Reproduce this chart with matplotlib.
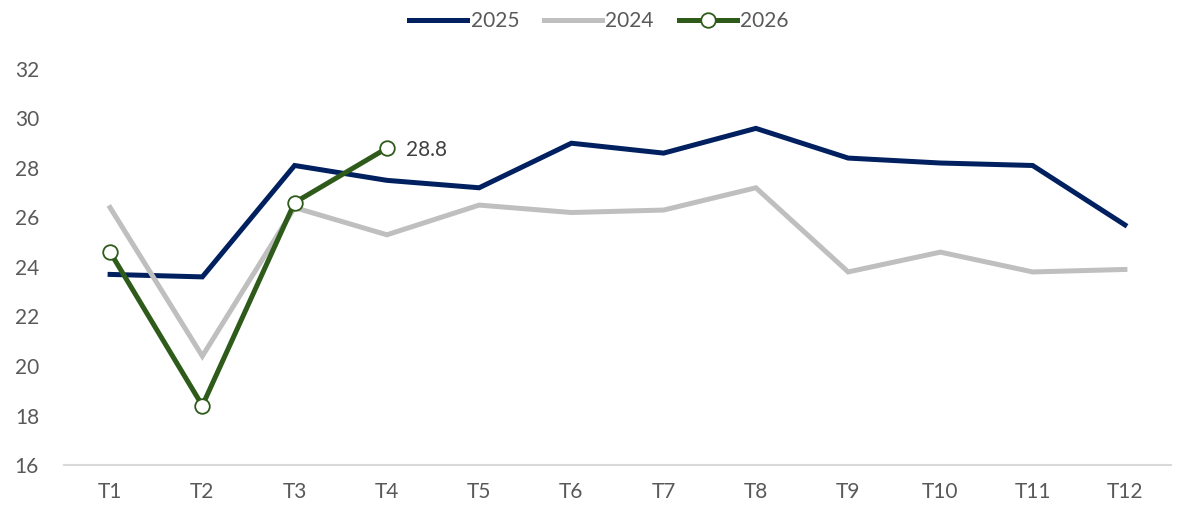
import matplotlib
matplotlib.use('Agg')
import matplotlib.pyplot as plt

# data
months = ['T1', 'T2', 'T3', 'T4', 'T5', 'T6', 'T7', 'T8', 'T9', 'T10', 'T11', 'T12']
y2025 = [23.7, 23.6, 28.1, 27.5, 27.2, 29.0, 28.6, 29.6, 28.4, 28.2, 28.1, 25.7]
y2024 = [26.4, 20.4, 26.4, 25.3, 26.5, 26.2, 26.3, 27.2, 23.8, 24.6, 23.8, 23.9]
y2026 = [24.6, 18.4, 26.6, 28.8]

plt.rcParams['font.family'] = ['Lato', 'DejaVu Sans']

fig = plt.figure(figsize=(11.98, 5.07), dpi=100)
ax = fig.add_axes([0.0534, 0.0828, 0.9241, 0.7812])

x = list(range(len(months)))
ax.plot(x, y2025, color='#002060', lw=3.6, label='2025', solid_joinstyle='miter')
ax.plot(x, y2024, color='#BFBFBF', lw=3.6, label='2024', solid_joinstyle='miter')
ax.plot(x[:len(y2026)], y2026, color='#2E5B1A', lw=3.6, label='2026',
        marker='o', markersize=10.5, markerfacecolor='white',
        markeredgecolor='#2E5B1A', markeredgewidth=1.3)

# label last 2026 point
ax.annotate(f'{y2026[-1]:.1f}', (len(y2026) - 1, y2026[-1]), xytext=(14, -1),
            textcoords='offset points', va='center', ha='left',
            fontsize=15, color='#404040')

ax.set_xlim(-0.5, len(months) - 0.5)
ax.set_ylim(16, 32)
ax.set_yticks(range(16, 33, 2))
ax.set_xticks(x)
ax.set_xticklabels(months)
ax.tick_params(axis='both', length=0, labelsize=15, colors='#595959')
ax.tick_params(axis='y', pad=18)
ax.tick_params(axis='x', pad=12)

for s in ['top', 'right', 'left']:
    ax.spines[s].set_visible(False)
ax.spines['bottom'].set_color('#D9D9D9')
ax.spines['bottom'].set_linewidth(1.5)

leg = fig.legend(loc='upper center', bbox_to_anchor=(0.5, 1.015), ncol=3,
                 frameon=False, fontsize=15, handlelength=2.8,
                 columnspacing=1.2, handletextpad=0.15)
for t in leg.get_texts():
    t.set_color('#595959')

fig.savefig('out.png', dpi=100)
